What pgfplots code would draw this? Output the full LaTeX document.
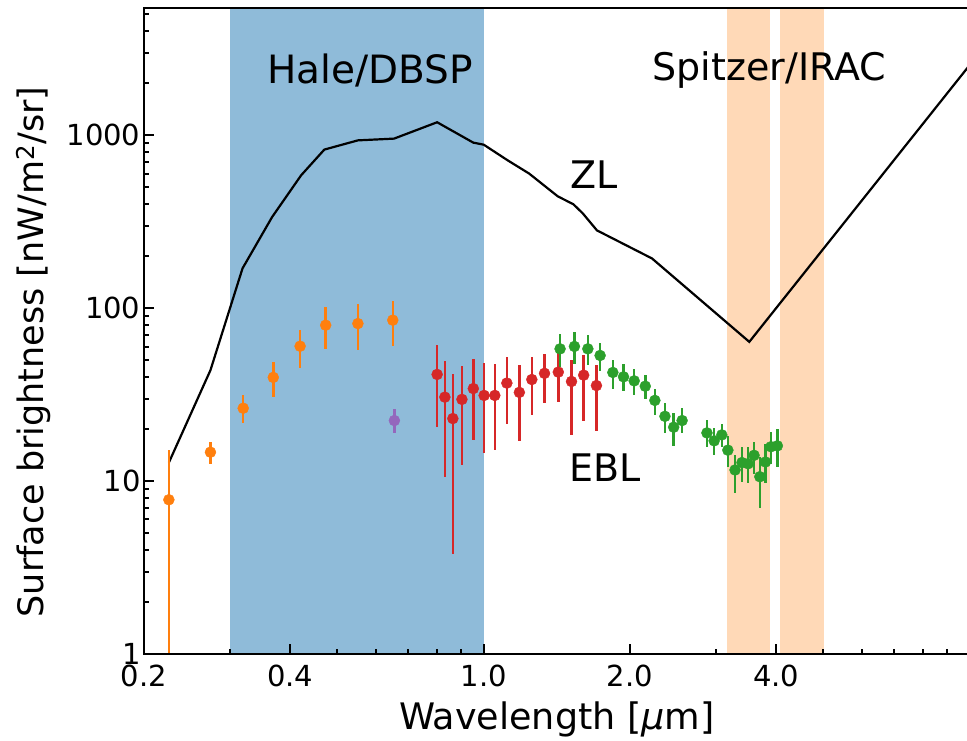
\documentclass[border=0pt]{standalone}
\usepackage{fontspec}
\setmainfont{DejaVu Sans}
\usepackage{pgfplots}
\pgfplotsset{compat=1.18}
\usepackage{pgfplotstable}

\definecolor{taborange}{RGB}{255,127,14}
\definecolor{tabgreen}{RGB}{44,160,44}
\definecolor{tabred}{RGB}{214,39,40}
\definecolor{tabpurple}{RGB}{148,103,189}
\definecolor{bandblue}{RGB}{143,187,217}
\definecolor{bandorange}{RGB}{255,217,183}

\pgfplotstableread{
x y em ep
0.225 7.8 7.6 7.3
0.274 14.7 2.1 2.1
0.320 26.4 4.8 4.9
0.369 39.8 9.3 9.1
0.419 60.3 15.3 15.0
0.473 79.8 21.6 21.2
0.551 81.5 24.3 24.0
0.650 85.3 24.7 24.4
}\orangedata

\pgfplotstableread{
x y em ep
0.655 22.4 3.5 3.6
}\purpledata

\pgfplotstableread{
x y em ep
0.802 41.4 20.8 19.7
0.832 30.6 20.1 18.8
0.864 23.0 19.2 18.5
0.902 29.7 17.3 16.9
0.952 34.3 17.0 16.7
1.002 31.3 16.8 16.8
1.054 31.3 16.2 16.0
1.116 36.9 15.5 15.0
1.184 32.6 15.5 14.3
1.256 38.7 14.6 13.6
1.334 42.0 13.6 12.4
1.424 42.7 14.0 12.5
1.516 37.7 19.2 12.4
1.606 41.0 18.8 12.7
1.706 35.7 16.2 11.2
}\reddata

\pgfplotstableread{
x y em ep
1.436 58.2 12.4 12.6
1.537 60.1 12.8 12.3
1.638 58.2 11.3 11.6
1.736 53.3 10.1 9.5
1.844 42.5 8.6 8.0
1.940 40.1 7.1 7.4
2.040 38.0 6.7 6.8
2.150 35.4 5.7 5.6
2.250 29.3 5.2 5.0
2.360 23.7 4.8 4.7
2.460 20.5 4.6 4.4
2.560 22.4 3.5 4.1
2.880 19.0 3.2 3.5
2.980 17.1 3.0 3.1
3.090 18.5 2.7 2.9
3.180 15.1 3.0 3.2
3.290 11.6 3.05 2.5
3.400 12.8 2.9 3.0
3.500 12.6 2.9 3.2
3.600 14.1 3.1 2.8
3.700 10.6 3.65 3.2
3.800 12.9 3.2 3.6
3.900 15.8 3.2 3.4
4.020 16.0 3.9 3.9
}\greendata

\begin{document}
\begin{tikzpicture}
\begin{axis}[
  scale only axis, width=825.7pt, height=646pt,
  xmode=log, ymode=log,
  xmin=0.2, xmax=10, ymin=1, ymax=5450,
  axis on top,
  axis line style={line width=2.6pt},
  tick style={line width=2pt, black},
  major tick length=10pt, minor tick length=5.5pt,
  tick align=inside,
  xtick pos=bottom, ytick pos=left,
  xtick={0.2,0.4,1,2,4}, xticklabels={0.2,0.4,1.0,2.0,4.0},
  minor xtick={0.3,0.5,0.6,0.7,0.8,0.9,3,5,6,7,8,9},
  ytick={1,10,100,1000}, yticklabels={1,10,100,1000},
  minor ytick={2,3,4,5,6,7,8,9,20,30,40,50,60,70,80,90,200,300,400,500,600,700,800,900,2000,3000,4000,5000},
  ticklabel style={font=\fontsize{29}{31}\selectfont},
  xticklabel style={yshift=-7pt},
  xlabel={Wavelength [\textit{μ}m]},
  ylabel={Surface brightness [nW/m\textsuperscript{2}/sr]},
  xlabel style={font=\fontsize{36.5}{40}\selectfont, at={(axis description cs:0.5,-0.1161)}, anchor=base},
  ylabel style={font=\fontsize{35}{40}\selectfont, at={(axis description cs:-0.1332,0.4675)}, anchor=center},
  error bars/error bar style={line width=2.5pt},
]
% instrument bands
\addplot[draw=none, fill=bandblue, forget plot] coordinates {(0.3,0.5) (0.3,10000) (1.0,10000) (1.0,0.5)} -- cycle;
\addplot[draw=none, fill=bandorange, forget plot] coordinates {(3.17,0.5) (3.17,10000) (3.89,10000) (3.89,0.5)} -- cycle;
\addplot[draw=none, fill=bandorange, forget plot] coordinates {(4.07,0.5) (4.07,10000) (5.02,10000) (5.02,0.5)} -- cycle;

% zodiacal light
\addplot[black, line width=2.2pt, mark=none] coordinates {
(0.225,12.8) (0.274,43.8) (0.319,170) (0.367,337) (0.421,587) (0.470,827)
(0.551,935) (0.654,957) (0.802,1190) (0.952,907) (1.0,883) (1.12,717)
(1.24,601) (1.42,444) (1.53,399) (1.6,353) (1.71,282) (2.22,194)
(3.52,63.9) (10,2550)
};

% EBL measurements
\addplot[only marks, mark=*, mark size=5.5pt, color=taborange,
  error bars/.cd, y dir=both, y explicit, error mark=none]
  table[x=x, y=y, y error plus=ep, y error minus=em] {\orangedata};
\addplot[only marks, mark=*, mark size=5.5pt, color=tabpurple,
  error bars/.cd, y dir=both, y explicit, error mark=none]
  table[x=x, y=y, y error plus=ep, y error minus=em] {\purpledata};
\addplot[only marks, mark=*, mark size=5.5pt, color=tabred,
  error bars/.cd, y dir=both, y explicit, error mark=none]
  table[x=x, y=y, y error plus=ep, y error minus=em] {\reddata};
\addplot[only marks, mark=*, mark size=5.5pt, color=tabgreen,
  error bars/.cd, y dir=both, y explicit, error mark=none]
  table[x=x, y=y, y error plus=ep, y error minus=em] {\greendata};

\node[font=\fontsize{39}{42}\selectfont, inner sep=0pt] at (axis cs:0.583,2375) {Hale/DBSP};
\node[font=\fontsize{38}{42}\selectfont, inner sep=0pt] at (axis cs:3.87,2375) {Spitzer/IRAC};
\node[font=\fontsize{38}{42}\selectfont, inner sep=0pt] at (axis cs:1.69,595) {ZL};
\node[font=\fontsize{38}{42}\selectfont, inner sep=0pt] at (axis cs:1.78,12.0) {EBL};
\end{axis}
\pgfresetboundingbox
\path[use as bounding box] (-144pt,-86pt) rectangle (823pt,654pt);
\end{tikzpicture}
\end{document}
